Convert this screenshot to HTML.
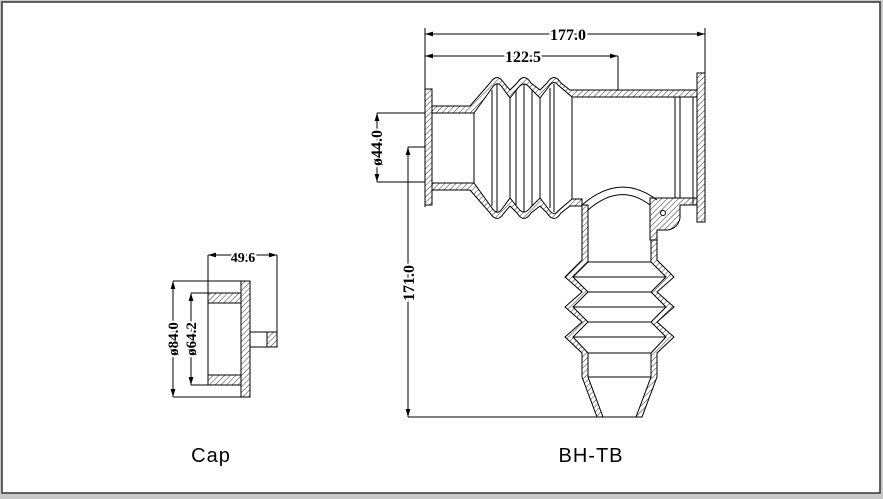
<!DOCTYPE html>
<html><head><meta charset="utf-8"><style>
html,body{margin:0;padding:0;background:#c8c8c8;}
svg{display:block;}
.d{font-family:"Liberation Serif","DejaVu Serif",serif;font-weight:bold;fill:#000;}
</style></head><body>
<svg width="883" height="499" viewBox="0 0 883 499" xmlns="http://www.w3.org/2000/svg">
<defs>
<pattern id="h" width="4" height="4" patternUnits="userSpaceOnUse" patternTransform="rotate(45)">
<rect width="4" height="4" fill="#fff"/><line x1="0" y1="0" x2="0" y2="4" stroke="#000" stroke-width="0.8"/>
</pattern>
<marker id="a" viewBox="0 0 10 6" refX="10" refY="3" markerWidth="8" markerHeight="5" orient="auto-start-reverse"><path d="M0,0L10,3L0,6z" fill="#000"/></marker>
</defs>
<rect x="2" y="2" width="878" height="491" fill="#fff" stroke="#333" stroke-width="1.5"/>
<g stroke="#000" stroke-width="1" fill="none">
<line x1="425" y1="34" x2="705" y2="34" marker-start="url(#a)" marker-end="url(#a)"/>
<line x1="425" y1="56" x2="618" y2="56" marker-start="url(#a)" marker-end="url(#a)"/>
<line x1="425" y1="28" x2="425" y2="207"/>
<line x1="705" y1="28" x2="705" y2="73"/>
<line x1="618" y1="56" x2="618" y2="90"/>
<line x1="377" y1="113" x2="432" y2="113"/>
<line x1="377" y1="182" x2="432" y2="182"/>
<line x1="377" y1="113" x2="377" y2="182" marker-start="url(#a)" marker-end="url(#a)"/>
<line x1="408" y1="147" x2="425" y2="147"/>
<line x1="408" y1="147" x2="408" y2="417" marker-start="url(#a)" marker-end="url(#a)"/>
<line x1="408" y1="417" x2="597" y2="417"/>
<g fill="url(#h)">
<rect x="425" y="89" width="7" height="116"/>
<rect x="697" y="73" width="8" height="149"/>
<path d="M432,106 L470,106 L490,83 Q497,72 504,83 L510,90 L517,83 Q524,72 531,83 L540,90 L547,83 Q554,72 561,83 L570,90 L697,90 L697,97 L572,97 L558,85 Q554,80 550,85 L540,98 L530,88 Q524,80 518,88 L510,98 L502,87 Q497,80 492,88 L474,113 L432,113 Z"/>
<path d="M432,190 L470,190 L490,213 Q497,224 504,213 L510,206 L517,213 Q524,224 531,213 L540,206 L547,213 Q554,224 561,213 L570,206 L582,206 L582,199 L572,199 L558,211 Q554,216 550,211 L540,198 L530,208 Q524,216 518,208 L510,198 L502,209 Q497,216 492,208 L474,183 L432,183 Z"/>
<path d="M650,198 L697,198 L697,205 L680,205 L680,218 Q678,228 668,230 L657,230 L657,240 L650,240 Z"/>
<path d="M582,205 L582,260 L565,277 L582,292 L565,307 L582,322 L565,337 L582,353 L582,377 L597,417 L603,417 L588,377 L588,353 L573,337 L588,322 L573,307 L588,292 L573,277 L588,262 L588,205 Z"/>
<path d="M657,240 L657,260 L674,277 L657,292 L674,307 L657,322 L674,337 L657,353 L657,377 L642,417 L636,417 L651,377 L651,353 L666,337 L651,322 L666,307 L651,292 L666,277 L651,262 L651,240 Z"/>
</g>
<circle cx="663" cy="213" r="2.5" fill="#fff"/>
<path d="M582,205 Q620,172 657,200"/>
<path d="M588,210 Q620,182 650,205"/>
<g>
<line x1="474" y1="113" x2="474" y2="183"/>
<line x1="492" y1="90" x2="492" y2="206"/>
<line x1="497" y1="84" x2="497" y2="212"/>
<line x1="510" y1="98" x2="510" y2="198"/>
<line x1="516" y1="90" x2="516" y2="206"/>
<line x1="524" y1="84" x2="524" y2="212"/>
<line x1="532" y1="90" x2="532" y2="206"/>
<line x1="540" y1="98" x2="540" y2="198"/>
<line x1="550" y1="88" x2="550" y2="208"/>
<line x1="554" y1="84" x2="554" y2="212"/>
<line x1="572" y1="97" x2="572" y2="199"/>
<line x1="675" y1="97" x2="675" y2="198"/>
<line x1="680" y1="97" x2="680" y2="198"/>
<line x1="693" y1="97" x2="693" y2="205"/>
<line x1="588" y1="262" x2="651" y2="262"/>
<line x1="573" y1="277" x2="666" y2="277"/>
<line x1="588" y1="292" x2="651" y2="292"/>
<line x1="573" y1="307" x2="666" y2="307"/>
<line x1="588" y1="322" x2="651" y2="322"/>
<line x1="573" y1="337" x2="666" y2="337"/>
<line x1="588" y1="353" x2="651" y2="353"/>
<line x1="588" y1="377" x2="651" y2="377"/>
<line x1="603" y1="417" x2="636" y2="417"/>
</g>
<line x1="208" y1="255" x2="277" y2="255" marker-start="url(#a)" marker-end="url(#a)"/>
<line x1="208" y1="255" x2="208" y2="385"/>
<line x1="277" y1="255" x2="277" y2="347"/>
<line x1="173" y1="281" x2="241" y2="281"/>
<line x1="173" y1="397" x2="241" y2="397"/>
<line x1="173" y1="281" x2="173" y2="397" marker-start="url(#a)" marker-end="url(#a)"/>
<line x1="191" y1="293" x2="208" y2="293"/>
<line x1="191" y1="385" x2="208" y2="385"/>
<line x1="191" y1="293" x2="191" y2="385" marker-start="url(#a)" marker-end="url(#a)"/>
<g fill="url(#h)">
<rect x="241" y="281" width="9" height="116"/>
<rect x="208" y="293" width="33" height="10"/>
<rect x="208" y="375" width="33" height="10"/>
<rect x="267" y="332" width="10" height="15"/>
</g>
<rect x="250" y="332" width="17" height="15"/>
</g>
<g class="d" font-size="16">
<text x="568" y="40" text-anchor="middle" stroke="#fff" stroke-width="4" paint-order="stroke">177.0</text>
<text x="523" y="62" text-anchor="middle" stroke="#fff" stroke-width="4" paint-order="stroke">122.5</text>
<text x="243" y="262" text-anchor="middle" font-size="14" stroke="#fff" stroke-width="4" paint-order="stroke">49.6</text>
<text transform="translate(382,148) rotate(-90)" text-anchor="middle" stroke="#fff" stroke-width="4" paint-order="stroke">ø44.0</text>
<text transform="translate(414,283) rotate(-90)" text-anchor="middle" stroke="#fff" stroke-width="4" paint-order="stroke">171.0</text>
<text transform="translate(178,339) rotate(-90)" text-anchor="middle" font-size="15" stroke="#fff" stroke-width="4" paint-order="stroke">ø84.0</text>
<text transform="translate(196,339) rotate(-90)" text-anchor="middle" font-size="15" stroke="#fff" stroke-width="4" paint-order="stroke">ø64.2</text>
</g>
<text x="211" y="462" text-anchor="middle" font-size="20" style="font-family:'Liberation Sans',sans-serif;letter-spacing:1px">Cap</text>
<text x="591" y="462" text-anchor="middle" font-size="20" style="font-family:'Liberation Sans',sans-serif;letter-spacing:1px">BH-TB</text>
</svg>
</body></html>
